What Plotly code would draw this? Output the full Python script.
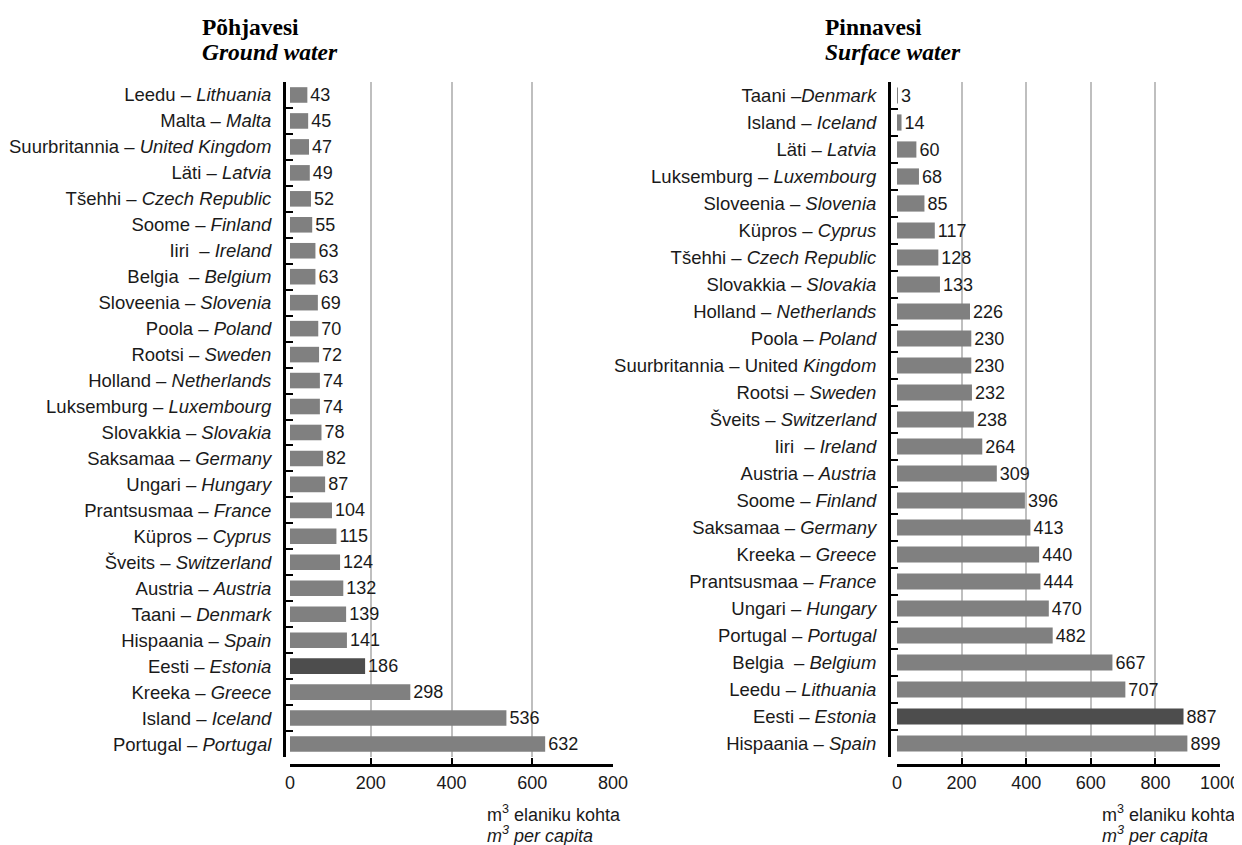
import plotly.graph_objects as go

# Põhjavesi / Ground water (top to bottom)
gw_et = ["Leedu", "Malta", "Suurbritannia", "Läti", "Tšehhi", "Soome", "Iiri\u00a0", "Belgia\u00a0",
         "Sloveenia", "Poola", "Rootsi", "Holland", "Luksemburg", "Slovakkia", "Saksamaa", "Ungari",
         "Prantsusmaa", "Küpros", "Šveits", "Austria", "Taani", "Hispaania", "Eesti", "Kreeka",
         "Island", "Portugal"]
gw_en = ["Lithuania", "Malta", "United Kingdom", "Latvia", "Czech Republic", "Finland", "Ireland",
         "Belgium", "Slovenia", "Poland", "Sweden", "Netherlands", "Luxembourg", "Slovakia", "Germany",
         "Hungary", "France", "Cyprus", "Switzerland", "Austria", "Denmark", "Spain", "Estonia", "Greece",
         "Iceland", "Portugal"]
gw_val = [43, 45, 47, 49, 52, 55, 63, 63, 69, 70, 72, 74, 74, 78, 82, 87, 104, 115, 124, 132, 139,
          141, 186, 298, 536, 632]

# Pinnavesi / Surface water (top to bottom)
sw_et = ["Taani", "Island", "Läti", "Luksemburg", "Sloveenia", "Küpros", "Tšehhi", "Slovakkia",
         "Holland", "Poola", "Suurbritannia", "Rootsi", "Šveits", "Iiri\u00a0", "Austria", "Soome",
         "Saksamaa", "Kreeka", "Prantsusmaa", "Ungari", "Portugal", "Belgia\u00a0", "Leedu", "Eesti",
         "Hispaania"]
sw_en = ["Denmark", "Iceland", "Latvia", "Luxembourg", "Slovenia", "Cyprus", "Czech Republic",
         "Slovakia", "Netherlands", "Poland", "United Kingdom", "Sweden", "Switzerland", "Ireland",
         "Austria", "Finland", "Germany", "Greece", "France", "Hungary", "Portugal", "Belgium",
         "Lithuania", "Estonia", "Spain"]
sw_val = [3, 14, 60, 68, 85, 117, 128, 133, 226, 230, 230, 232, 238, 264, 309, 396, 413, 440, 444,
          470, 482, 667, 707, 887, 899]

# page body has an 8px margin, so the figure is made a bit smaller and shifted
OFF = 8
W, H = 1242 - OFF, 845 - OFF
GREY = "#808080"
DARK = "#4d4d4d"
FONT = "Liberation Sans"
TXT = "#1a1a1a"

gw_lab = [f"{a} – <i>{b}</i>" for a, b in zip(gw_et, gw_en)]
sw_lab = []
for a, b in zip(sw_et, sw_en):
    if b == "United Kingdom":
        sw_lab.append(f"{a} – United <i>Kingdom</i>")
    elif a == "Taani":
        sw_lab.append(f"{a} –<i>{b}</i>")
    else:
        sw_lab.append(f"{a} – <i>{b}</i>")


def px_x(p):
    return (p - OFF) / W


def px_y(p):
    return 1 - (p - OFF) / H


fig = go.Figure()
fig.add_trace(go.Bar(
    y=gw_lab, x=gw_val, orientation="h", xaxis="x", yaxis="y",
    marker=dict(color=[DARK if e == "Estonia" else GREY for e in gw_en], line_width=0),
    text=gw_val, textposition="outside", cliponaxis=False, constraintext="none",
    textfont=dict(family=FONT, size=18, color=TXT), showlegend=False))
fig.add_trace(go.Bar(
    y=sw_lab, x=sw_val, orientation="h", xaxis="x2", yaxis="y2",
    marker=dict(color=[DARK if e == "Estonia" else GREY for e in sw_en], line_width=0),
    text=sw_val, textposition="outside", cliponaxis=False, constraintext="none",
    textfont=dict(family=FONT, size=18, color=TXT), showlegend=False))

xcommon = dict(anchor="free", automargin=False, showline=True, linecolor="black", linewidth=3,
               ticks="inside", ticklen=6, tickwidth=2, tickcolor="black",
               showgrid=True, gridcolor="#bfbfbf", gridwidth=1.5, zeroline=False,
               tickfont=dict(family=FONT, size=18, color=TXT))
ycommon = dict(anchor="free", automargin=False, showline=True, linecolor="black", linewidth=3,
               ticks="inside", ticklen=7, tickwidth=2, tickcolor="black", tickson="boundaries",
               showgrid=False, zeroline=False, ticklabelstandoff=8,
               tickfont=dict(family=FONT, size=18.5, color=TXT))

fig.update_layout(
    width=W, height=H, margin=dict(l=0, r=0, t=0, b=0, autoexpand=False),
    plot_bgcolor="white", paper_bgcolor="white", bargap=0.4,
    xaxis=dict(domain=[px_x(290), px_x(613)], range=[0, 800], tickvals=[0, 200, 400, 600, 800],
               position=px_y(765), **xcommon),
    yaxis=dict(domain=[px_y(757), px_y(82)], range=[len(gw_val) - 0.5, -0.5],
               position=px_x(284), **ycommon),
    xaxis2=dict(domain=[px_x(897), px_x(1220)], range=[0, 1000],
                tickvals=[0, 200, 400, 600, 800, 1000], position=px_y(765), **xcommon),
    yaxis2=dict(domain=[px_y(757), px_y(82)], range=[len(sw_val) - 0.5, -0.5],
                position=px_x(889), **ycommon),
)

ann = []
for x0, l1, l2 in [(200, "Põhjavesi", "Ground water"), (823, "Pinnavesi", "Surface water")]:
    ann.append(dict(x=px_x(x0), y=px_y(27), xref="paper", yref="paper", xanchor="left",
                    yanchor="middle", showarrow=False, text=f"<b>{l1}</b>",
                    font=dict(family="Liberation Serif", size=23.5, color="black")))
    ann.append(dict(x=px_x(x0), y=px_y(52), xref="paper", yref="paper", xanchor="left",
                    yanchor="middle", showarrow=False, text=f"<b><i>{l2}</i></b>",
                    font=dict(family="Liberation Serif", size=23.5, color="black")))
for x0 in [485, 1100]:
    ann.append(dict(x=px_x(x0), y=px_y(813), xref="paper", yref="paper", xanchor="left",
                    yanchor="middle", showarrow=False, text="m<sup>3</sup> elaniku kohta",
                    font=dict(family=FONT, size=18, color=TXT)))
    ann.append(dict(x=px_x(x0), y=px_y(834), xref="paper", yref="paper", xanchor="left",
                    yanchor="middle", showarrow=False, text="<i>m<sup>3</sup> per capita</i>",
                    font=dict(family=FONT, size=18, color=TXT)))
fig.update_layout(annotations=ann)

fig.write_html("out.html")
